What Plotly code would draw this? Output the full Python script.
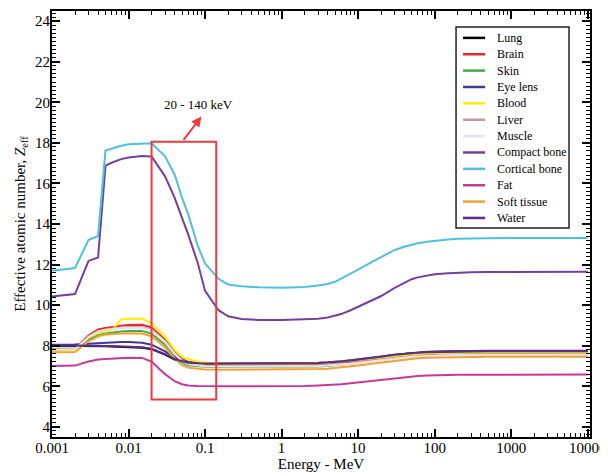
import math
import plotly.graph_objects as go

energy = [0.001, 0.0015, 0.002, 0.003, 0.004, 0.005, 0.006, 0.008, 0.01, 0.015,
          0.02, 0.03, 0.04, 0.05, 0.06, 0.08, 0.1, 0.15, 0.2, 0.3, 0.5, 1,
          2, 3, 4, 5, 6, 8, 10, 15, 20, 30, 40, 50, 60, 80, 100, 150, 200, 300,
          500, 1000, 10000]

lung = [8.0, 8.0, 8.0, 7.99, 7.98, 7.97, 7.96, 7.95, 7.94, 7.9, 7.83, 7.56, 7.32, 7.2,
        7.14, 7.11, 7.1, 7.1, 7.1, 7.1, 7.1, 7.1,
        7.11, 7.13, 7.15, 7.18, 7.20, 7.25, 7.30, 7.38, 7.45, 7.54, 7.59, 7.63, 7.65,
        7.68, 7.69, 7.71, 7.72, 7.72, 7.73, 7.73, 7.73]
brain = [7.78, 7.8, 7.85, 8.5, 8.8, 8.87, 8.92, 8.98, 9.02, 9.03, 8.9, 8.3, 7.72, 7.35,
         7.2, 7.1, 7.07, 7.05, 7.05, 7.05, 7.05, 7.05,
         7.06, 7.08, 7.10, 7.12, 7.14, 7.19, 7.23, 7.31, 7.37, 7.46, 7.50, 7.54, 7.55,
         7.58, 7.60, 7.61, 7.62, 7.62, 7.63, 7.63, 7.63]
skin = [7.85, 7.85, 7.86, 8.3, 8.52, 8.6, 8.65, 8.7, 8.73, 8.73, 8.6, 8.05, 7.5, 7.17,
        7.04, 6.98, 6.96, 6.95, 6.95, 6.95, 6.95, 6.95,
        6.96, 6.98, 7.00, 7.03, 7.06, 7.11, 7.16, 7.25, 7.32, 7.42, 7.47, 7.51, 7.53,
        7.57, 7.58, 7.60, 7.61, 7.61, 7.62, 7.62, 7.62]
eye_lens = [8.05, 8.05, 8.06, 8.1, 8.13, 8.15, 8.16, 8.18, 8.18, 8.15, 8.05, 7.72, 7.43,
            7.27, 7.2, 7.15, 7.13, 7.13, 7.13, 7.13, 7.13, 7.13,
            7.14, 7.16, 7.18, 7.20, 7.23, 7.28, 7.32, 7.41, 7.47, 7.56, 7.61, 7.65, 7.67,
            7.70, 7.71, 7.73, 7.74, 7.74, 7.75, 7.75, 7.75]
blood = [7.75, 7.77, 7.8, 8.4, 8.65, 8.7, 8.75, 9.3, 9.33, 9.33, 9.12, 8.45, 7.8, 7.46,
         7.33, 7.22, 7.17, 7.14, 7.12, 7.11, 7.11, 7.11,
         7.12, 7.14, 7.15, 7.18, 7.20, 7.24, 7.28, 7.36, 7.41, 7.50, 7.54, 7.57, 7.59,
         7.62, 7.63, 7.64, 7.65, 7.65, 7.66, 7.66, 7.66]
liver = [7.8, 7.82, 7.85, 8.45, 8.72, 8.8, 8.85, 8.9, 8.92, 8.92, 8.8, 8.22, 7.65, 7.28,
         7.13, 7.05, 7.02, 7.0, 7.0, 7.0, 7.0, 7.0,
         7.01, 7.03, 7.05, 7.07, 7.09, 7.14, 7.18, 7.26, 7.31, 7.40, 7.44, 7.48, 7.50,
         7.52, 7.54, 7.55, 7.56, 7.56, 7.57, 7.57, 7.57]
muscle = [7.8, 7.81, 7.83, 8.42, 8.7, 8.78, 8.82, 8.87, 8.88, 8.88, 8.76, 8.18, 7.6, 7.24,
          7.1, 7.02, 6.99, 6.97, 6.97, 6.97, 6.97, 6.97,
          6.98, 7.00, 7.02, 7.04, 7.06, 7.11, 7.15, 7.23, 7.29, 7.38, 7.42, 7.46, 7.47,
          7.50, 7.52, 7.53, 7.54, 7.54, 7.55, 7.55, 7.55]
compact_bone = [10.43, 10.49, 10.55, 12.18, 12.35, 16.88, 17.02, 17.2, 17.28, 17.35, 17.33,
                16.35, 15.3, 14.3, 13.5, 12.1, 10.7, 9.75, 9.45, 9.32, 9.27, 9.27,
                9.29, 9.33, 9.39, 9.47, 9.56, 9.75, 9.93, 10.22, 10.45, 10.85, 11.1, 11.28,
                11.37, 11.47, 11.52, 11.57, 11.6, 11.62, 11.63, 11.64, 11.64]
cortical_bone = [11.69, 11.76, 11.83, 13.21, 13.41, 17.62, 17.72, 17.86, 17.93, 17.98, 17.98,
                 17.34, 16.44, 15.3, 14.5, 12.95, 12.05, 11.3, 11.02, 10.93, 10.88, 10.86,
                 10.9, 10.97, 11.04, 11.15, 11.3, 11.55, 11.75, 12.12, 12.38, 12.72, 12.88,
                 12.98, 13.05, 13.13, 13.18, 13.24, 13.27, 13.29, 13.3, 13.31, 13.31]
fat = [7.0, 7.0, 7.02, 7.22, 7.32, 7.35, 7.37, 7.4, 7.41, 7.4, 7.22, 6.6, 6.25, 6.1,
       6.04, 6.01, 6.0, 6.0, 6.0, 6.0, 6.0, 6.01,
       6.02, 6.04, 6.06, 6.08, 6.10, 6.15, 6.19, 6.27, 6.32, 6.41, 6.45, 6.49, 6.51,
       6.53, 6.55, 6.56, 6.57, 6.57, 6.58, 6.58, 6.58]
soft_tissue = [7.68, 7.68, 7.69, 8.22, 8.46, 8.55, 8.58, 8.6, 8.62, 8.6, 8.47, 7.92, 7.37,
               7.04, 6.92, 6.85, 6.83, 6.82, 6.82, 6.82, 6.82, 6.82,
               6.83, 6.85, 6.87, 6.90, 6.92, 6.97, 7.02, 7.11, 7.17, 7.27, 7.32, 7.36, 7.38,
               7.41, 7.42, 7.44, 7.45, 7.45, 7.46, 7.46, 7.46]
water = [8.02, 8.02, 8.02, 8.01, 8.0, 7.99, 7.98, 7.97, 7.96, 7.92, 7.85, 7.58, 7.34, 7.22,
         7.16, 7.13, 7.12, 7.12, 7.12, 7.12, 7.12, 7.12,
         7.13, 7.15, 7.17, 7.19, 7.22, 7.27, 7.31, 7.39, 7.46, 7.55, 7.60, 7.63, 7.65,
         7.68, 7.69, 7.71, 7.72, 7.72, 7.73, 7.73, 7.73]

series_names = ["Lung", "Brain", "Skin", "Eye lens", "Blood", "Liver", "Muscle",
                "Compact bone", "Cortical bone", "Fat", "Soft tissue", "Water"]
series_values = [lung, brain, skin, eye_lens, blood, liver, muscle,
                 compact_bone, cortical_bone, fat, soft_tissue, water]
series_colors = ["#000000", "#e8262b", "#3cb043", "#3d3a94", "#ffee00", "#c99696",
                 "#e4e4ee", "#7440a0", "#4fc0e0", "#c8389a", "#f5a035", "#5f2a8a"]

x_tick_vals = [0.001, 0.01, 0.1, 1, 10, 100, 1000, 10000]
x_tick_text = ["0.001", "0.01", "0.1", "1", "10", "100", "1000", "10000"]
y_tick_vals = [4, 6, 8, 10, 12, 14, 16, 18, 20, 22, 24]

box_energy = [0.02, 0.14]
box_z = [5.35, 18.05]
box_label = "20 - 140 keV"

FONT = "Liberation Serif, Times New Roman, DejaVu Serif, serif"

# minor tick positions (2..9 in every decade)
x_minor = [m * 10 ** d for d in range(-3, 4) for m in range(2, 10)]

fig = go.Figure()
for name, vals, col in zip(series_names, series_values, series_colors):
    fig.add_trace(go.Scatter(x=energy, y=vals, mode="lines", name=name,
                             line=dict(color=col, width=2), showlegend=False))

fig.add_shape(type="rect", xref="x", yref="y",
              x0=box_energy[0], x1=box_energy[1], y0=box_z[0], y1=box_z[1],
              line=dict(color="#ec3a3e", width=2), fillcolor="rgba(0,0,0,0)")

fig.add_annotation(x=math.log10(0.0896), y=19.3, ax=math.log10(0.0506), ay=18.07,
                   axref="x", ayref="y", xref="x", yref="y", text="",
                   showarrow=True, arrowhead=2, arrowsize=1, arrowwidth=2,
                   arrowcolor="#ec3a3e")
fig.add_annotation(x=math.log10(0.0818), y=19.89, xref="x", yref="y",
                   text=box_label, showarrow=False,
                   font=dict(family=FONT, size=13, color="black"))

# legend box (paper coordinates)
lg_x0, lg_x1, lg_y0, lg_y1 = 0.751, 0.961, 0.4907, 0.9626
fig.add_shape(type="rect", xref="paper", yref="paper", x0=lg_x0, x1=lg_x1, y0=lg_y0, y1=lg_y1,
              line=dict(color="#222222", width=1.5), fillcolor="white", layer="above")
for i, (name, col) in enumerate(zip(series_names, series_colors)):
    yy = 0.9369 - i * 0.03843
    fig.add_shape(type="line", xref="paper", yref="paper", x0=0.764, x1=0.805, y0=yy, y1=yy,
                  line=dict(color=col, width=2.5), layer="above")
    fig.add_annotation(x=0.8234, y=yy, xref="paper", yref="paper", text=name,
                       showarrow=False, xanchor="left", yanchor="middle",
                       font=dict(family=FONT, size=12, color="black"))

axis_common = dict(showline=True, linecolor="black", linewidth=2, mirror="allticks",
                   ticks="inside", ticklen=8, tickwidth=1.5, tickcolor="black",
                   showgrid=False, zeroline=False, ticklabeloverflow="allow",
                   tickfont=dict(family=FONT, size=15, color="black"))

fig.update_xaxes(type="log", range=[-3, 4.03], tickvals=x_tick_vals, ticktext=x_tick_text,
                 ticklabelstandoff=-4,
                 minor=dict(ticks="inside", ticklen=4, tickwidth=1, tickcolor="black",
                            tickvals=x_minor, showgrid=False),
                 title=dict(text="Energy - MeV", font=dict(family=FONT, size=15, color="black"),
                            standoff=0),
                 **axis_common)
fig.update_yaxes(range=[3.5, 24.5], tickvals=y_tick_vals, ticklabelstandoff=-3,
                 minor=dict(ticks="inside", ticklen=4, tickwidth=1, tickcolor="black",
                            dtick=0.2, showgrid=False),
                 title=dict(text="Effective atomic number, <i>Z</i><sub>eff</sub>",
                            font=dict(family=FONT, size=15, color="black"), standoff=6),
                 **axis_common)

fig.update_layout(
    width=608, height=476, autosize=False,
    margin=dict(l=44, r=26, t=1, b=47),
    plot_bgcolor="white", paper_bgcolor="white",
    showlegend=False,
)

fig.write_html("out.html")
